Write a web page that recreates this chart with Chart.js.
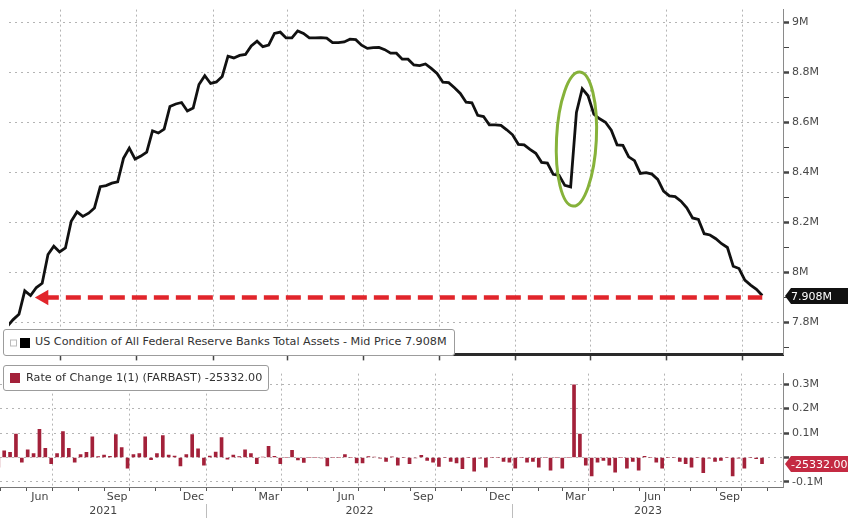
<!DOCTYPE html>
<html>
<head>
<meta charset="utf-8">
<script src="https://cdn.jsdelivr.net/npm/chart.js@4.4.0/dist/chart.umd.min.js"></script>
<style>
  html, body { margin: 0; padding: 0; background: #fff; }
  #wrap { position: relative; width: 848px; height: 518px; overflow: hidden; font-family: "DejaVu Sans", sans-serif; }
  #topChart { position: absolute; left: 0; top: 0; }
  #botChart { position: absolute; left: 0; top: 364px; }
  .leg { position: absolute; background: #fff; border: 1px solid #9c9c9c; border-radius: 3px;
         font-size: 11.2px; color: #333; white-space: nowrap; line-height: 14px; }
  .sw { position: absolute; top: 50%; transform: translateY(-50%); }
</style>
</head>
<body>
<div id="wrap">
  <canvas id="topChart" width="848" height="364"></canvas>
  <canvas id="botChart" width="848" height="154"></canvas>
  <div class="leg" style="left:3px;top:329px;height:25px;padding:0 7px 0 31px;">
    <span class="sw" style="left:6px;width:5px;height:5px;border:1px solid #bbb;"></span>
    <span class="sw" style="left:16px;width:10px;height:10px;background:#000;"></span>
    <span style="position:relative;top:5px;">US Condition of All Federal Reserve Banks Total Assets - Mid Price 7.908M</span>
  </div>
  <div class="leg" style="left:3px;top:365px;height:24px;padding:0 6px 0 22px;">
    <span class="sw" style="left:6px;width:10px;height:10px;background:#a3213a;"></span>
    <span style="position:relative;top:5px;">Rate of Change 1(1) (FARBAST) -25332.00</span>
  </div>
</div>
<script>
/* --- Data (weekly, Wednesdays) --------------------------- */
const FIRST_WEEK = '2021-04-28';
const AXIS_START = '2021-04-30';
const AXIS_END = '2023-11-19';

// Total assets, millions of millions (M)
const TOTAL_ASSETS = [
  7.785, 7.812, 7.833, 7.927, 7.908, 7.940, 7.957, 8.072, 8.105, 8.082,
  8.098, 8.205, 8.242, 8.224, 8.237, 8.258, 8.343, 8.347, 8.357, 8.362,
  8.456, 8.497, 8.453, 8.465, 8.481, 8.566, 8.557, 8.573, 8.663, 8.673,
  8.679, 8.645, 8.657, 8.751, 8.786, 8.755, 8.761, 8.783, 8.864, 8.857,
  8.867, 8.871, 8.905, 8.924, 8.902, 8.908, 8.955, 8.960, 8.937, 8.937,
  8.965, 8.955, 8.937, 8.937, 8.938, 8.936, 8.918, 8.918, 8.921, 8.932,
  8.930, 8.908, 8.895, 8.898, 8.899, 8.890, 8.876, 8.876, 8.852, 8.852,
  8.829, 8.826, 8.833, 8.815, 8.795, 8.760, 8.758, 8.738, 8.715, 8.680,
  8.678, 8.628, 8.623, 8.590, 8.590, 8.588, 8.570, 8.550, 8.512, 8.510,
  8.492, 8.476, 8.440, 8.437, 8.392, 8.388, 8.348, 8.342, 8.639, 8.734,
  8.706, 8.632, 8.614, 8.600, 8.568, 8.510, 8.508, 8.462, 8.447, 8.396,
  8.399, 8.393, 8.372, 8.325, 8.306, 8.303, 8.285, 8.258, 8.218, 8.212,
  8.155, 8.150, 8.135, 8.115, 8.100, 8.025, 8.016, 7.970, 7.950, 7.933,
  7.908
];

// Weekly rate of change, thousands of millions
const RATE_OF_CHANGE = [
  -40, 27, 21, 96, -19, 31, 16, 115, 37, -25,
  16, 106, 37, -19, 12, 21, 85, 4, 10, 5,
  94, 41, -44, 12, 16, 85, -9, 16, 90, 10,
  6, -34, 12, 94, 35, -31, 6, 22, 81, -7,
  10, 4, 31, 16, -25, 2, 46, 5, -25, 0,
  29, -10, -20, 0, 0, -2, -35, 0, 0, 12,
  0, -22, -22, 4, 2, -3, -16, 3, -31, 0,
  -25, -2, 9, -12, -19, -37, 0, -16, -22, -46,
  0, -56, -3, -40, 0, 0, -16, -19, -44, 0,
  -19, -16, -40, 0, -52, 0, -44, 0, 297, 96,
  -31, -75, -19, -12, -31, -60, 0, -44, -16, -52,
  5, 0, -19, -44, 0, 0, -16, -25, -40, 0,
  -62, -3, -16, -12, 0, -75, -3, -44, 0, -5,
  -25.332
];

const TOP_TICKS = [7.7, 7.8, 7.9, 8.0, 8.1, 8.2, 8.3, 8.4, 8.5, 8.6, 8.7, 8.8, 8.9, 9.0];
const TOP_LABELED = [7.8, 8.0, 8.2, 8.4, 8.6, 8.8, 9.0];
const BOT_TICKS = [-100, -50, 0, 50, 100, 150, 200, 250, 300];
const BOT_LABELED = [-100, 100, 200, 300];
const MONTH_NAMES = ['Jan', 'Feb', 'Mar', 'Apr', 'May', 'Jun', 'Jul', 'Aug', 'Sep', 'Oct', 'Nov', 'Dec'];
const LABEL_MONTHS = [2, 5, 8, 11];

const ARROW_FROM = '2021-06-11';
const ARROW_LEVEL = 7.9;
const HIGHLIGHT = { date: '2023-03-15', value: 8.533, halfDays: 24, halfValue: 0.268, tilt: 0.05 };

/* --- Helpers --------------------------------------------- */
const DAY0 = Date.UTC(2021, 0, 1);
const dayNum = s => (Date.parse(s + 'T00:00:00Z') - DAY0) / 864e5;
const dateOf = d => new Date(DAY0 + d * 864e5);
const X_MIN = dayNum(AXIS_START);
const X_MAX = dayNum(AXIS_END);
const weekDay = i => dayNum(FIRST_WEEK) + 7 * i;
const near = (v, list) => list.some(t => Math.abs(t - v) < 1e-6);

function monthStarts(step) {
  const out = [];
  const s = dateOf(X_MIN);
  let y = s.getUTCFullYear(), m = s.getUTCMonth() + 1;
  while (true) {
    if (m > 11) { m = 0; y++; }
    const v = (Date.UTC(y, m, 1) - DAY0) / 864e5;
    if (v > X_MAX) break;
    if (m % step === 0) out.push(v);
    m++;
  }
  return out;
}
const QUARTERS = monthStarts(3);
const MONTHS = monthStarts(1);
const YEAR_BOUNDS = monthStarts(12);
const YEAR_CENTERS = [];
{
  const edges = [X_MIN, ...YEAR_BOUNDS, X_MAX];
  for (let i = 0; i < edges.length - 1; i++) YEAR_CENTERS.push((edges[i] + edges[i + 1]) / 2);
}

Chart.defaults.font.family = '"DejaVu Sans", sans-serif';
Chart.defaults.font.size = 11;
Chart.defaults.color = '#444';

const GRID = '#b4b4b4';
const DOTS = [2, 3];

/* --- Plugins --------------------------------------------- */
function valueTag(text, value, fill) {
  return {
    id: 'valueTag',
    afterDraw(chart) {
      const { ctx, chartArea, scales: { y } } = chart;
      const yy = Math.round(y.getPixelForValue(value));
      const x0 = chartArea.right + 2, x1 = chart.width, h = 16;
      ctx.save();
      ctx.fillStyle = fill;
      ctx.beginPath();
      ctx.moveTo(x0, yy);
      ctx.lineTo(x0 + 6, yy - h / 2);
      ctx.lineTo(x1, yy - h / 2);
      ctx.lineTo(x1, yy + h / 2);
      ctx.lineTo(x0 + 6, yy + h / 2);
      ctx.closePath();
      ctx.fill();
      ctx.fillStyle = '#fff';
      ctx.font = '11px "DejaVu Sans", sans-serif';
      ctx.textBaseline = 'middle';
      ctx.fillText(text, x0 + 6, yy + 1);
      ctx.restore();
    }
  };
}

const highlightRing = {
  id: 'highlightRing',
  afterDatasetsDraw(chart) {
    const { ctx, scales: { x, y } } = chart;
    const d = dayNum(HIGHLIGHT.date);
    const cx = x.getPixelForValue(d);
    const cy = y.getPixelForValue(HIGHLIGHT.value);
    const rx = Math.abs(x.getPixelForValue(d + HIGHLIGHT.halfDays) - cx);
    const ry = Math.abs(y.getPixelForValue(HIGHLIGHT.value + HIGHLIGHT.halfValue) - cy);
    ctx.save();
    ctx.strokeStyle = '#86b23a';
    ctx.lineWidth = 3;
    ctx.beginPath();
    ctx.ellipse(cx, cy, rx, ry, HIGHLIGHT.tilt, 0, Math.PI * 2);
    ctx.stroke();
    ctx.restore();
  }
};

/* --- Top panel: total assets ----------------------------- */
const lastDay = weekDay(TOTAL_ASSETS.length - 1);

new Chart(document.getElementById('topChart'), {
  type: 'line',
  data: {
    datasets: [
      {
        label: 'Total Assets',
        data: TOTAL_ASSETS.map((v, i) => ({ x: weekDay(i), y: v })),
        borderColor: '#111',
        borderWidth: 2.8,
        pointRadius: 0,
        tension: 0,
        order: 2
      },
      {
        label: 'Level',
        data: [{ x: dayNum(ARROW_FROM), y: ARROW_LEVEL }, { x: lastDay, y: ARROW_LEVEL }],
        borderColor: '#e1252b',
        backgroundColor: '#e1252b',
        borderWidth: 4.5,
        borderDash: [15, 7],
        pointStyle: 'triangle',
        pointRotation: -90,
        pointRadius: [9, 0],
        pointBorderWidth: 0,
        pointBackgroundColor: '#e1252b',
        order: 1
      }
    ]
  },
  options: {
    responsive: false,
    animation: false,
    layout: { padding: 0 },
    plugins: { legend: { display: false }, tooltip: { enabled: false } },
    scales: {
      x: {
        type: 'linear', min: X_MIN, max: X_MAX,
        afterBuildTicks: s => { s.ticks = QUARTERS.map(v => ({ value: v })); },
        afterFit: s => { s.height = 6; },
        grid: { color: GRID, tickLength: 6, tickColor: '#444', tickWidth: 1.5 },
        border: { color: '#2a2a2a', width: 3, dash: DOTS },
        ticks: { display: false }
      },
      y: {
        position: 'right', min: 7.673, max: 9.05,
        afterBuildTicks: s => { s.ticks = TOP_TICKS.map(v => ({ value: v })); },
        afterFit: s => { s.width = 65; },
        grid: {
          color: c => near(c.tick.value, TOP_LABELED) ? GRID : 'transparent',
          tickColor: '#444',
          tickWidth: c => near(c.tick.value, TOP_LABELED) ? 2.5 : 1,
          tickLength: 6
        },
        border: { color: '#8a8a8a', width: 1, dash: [2, 4] },
        ticks: {
          padding: 3, color: '#4a4a4a',
          callback: v => near(v, TOP_LABELED) ? (+v.toFixed(1)) + 'M' : ''
        }
      }
    }
  },
  plugins: [highlightRing, valueTag('7.908M', TOTAL_ASSETS[TOTAL_ASSETS.length - 1], '#111')]
});

/* --- Bottom panel: rate of change ------------------------ */
new Chart(document.getElementById('botChart'), {
  type: 'bar',
  data: {
    datasets: [{
      label: 'Rate of Change',
      data: RATE_OF_CHANGE.map((v, i) => ({ x: weekDay(i), y: v })),
      backgroundColor: '#a3213a',
      barThickness: 3
    }]
  },
  options: {
    responsive: false,
    animation: false,
    layout: { padding: 0 },
    plugins: { legend: { display: false }, tooltip: { enabled: false } },
    scales: {
      x: {
        type: 'linear', min: X_MIN, max: X_MAX, offset: false,
        afterBuildTicks: s => { s.ticks = MONTHS.map(v => ({ value: v })); },
        afterFit: s => { s.height = 17; },
        grid: {
          offset: false,
          color: c => near(c.tick.value, QUARTERS) ? GRID : 'transparent',
          tickColor: '#555', tickLength: 4, tickWidth: 1
        },
        border: { color: '#777', width: 1, dash: DOTS },
        ticks: {
          autoSkip: false, maxRotation: 0, labelOffset: 13, padding: 0,
          color: '#444',
          callback: v => {
            const m = dateOf(v).getUTCMonth();
            return LABEL_MONTHS.includes(m) ? MONTH_NAMES[m] : '';
          }
        }
      },
      x2: {
        type: 'linear', position: 'bottom', min: X_MIN, max: X_MAX, offset: false,
        afterBuildTicks: s => { s.ticks = [...YEAR_BOUNDS, ...YEAR_CENTERS].sort((a, b) => a - b).map(v => ({ value: v })); },
        afterFit: s => { s.height = 14; },
        grid: {
          offset: false, drawOnChartArea: false, tickLength: 16,
          color: 'transparent',
          tickColor: c => near(c.tick.value, YEAR_BOUNDS) ? '#bdbdbd' : 'transparent'
        },
        border: { display: false },
        ticks: {
          autoSkip: false, maxRotation: 0, padding: -15,
          color: '#444',
          callback: v => near(v, YEAR_BOUNDS) ? '' : String(dateOf(v).getUTCFullYear())
        }
      },
      y: {
        position: 'right', min: -120.8, max: 343.4,
        afterBuildTicks: s => { s.ticks = BOT_TICKS.map(v => ({ value: v })); },
        afterFit: s => { s.width = 65; },
        grid: {
          color: c => (c.tick.value % 100 === 0) ? GRID : 'transparent',
          tickColor: '#444',
          tickWidth: c => (c.tick.value % 100 === 0) ? 2.5 : 1,
          tickLength: 6
        },
        border: { color: '#8a8a8a', width: 1, dash: [2, 4] },
        ticks: {
          padding: 3, color: '#4a4a4a',
          callback: v => near(v, BOT_LABELED) ? (v / 1000) + 'M' : ''
        }
      }
    }
  },
  plugins: [valueTag('-25332.00', RATE_OF_CHANGE[RATE_OF_CHANGE.length - 1], '#c42a42')]
});
</script>
</body>
</html>
